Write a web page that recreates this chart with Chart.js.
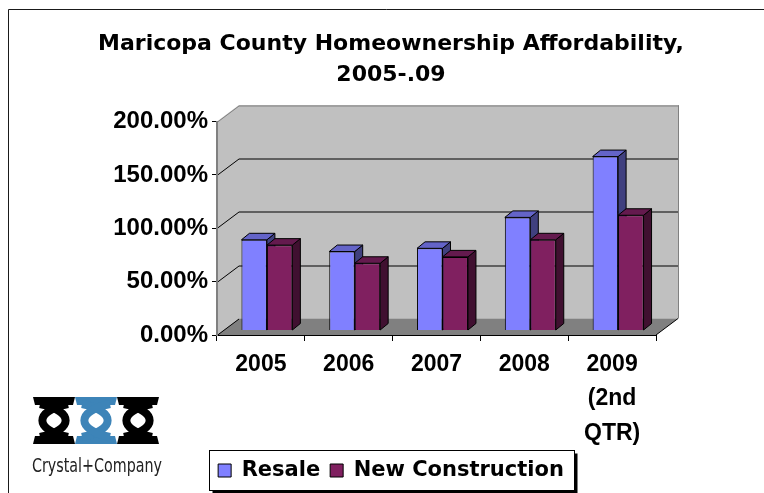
<!DOCTYPE html>
<html>
<head>
<meta charset="utf-8">
<script src="https://cdn.jsdelivr.net/npm/chart.js@4.4.1/dist/chart.umd.min.js"></script>
<style>
  html, body { margin: 0; padding: 0; background: #fff; }
  canvas { display: block; }
</style>
</head>
<body>
<canvas id="chart" width="764" height="493"></canvas>
<script>
// ---- data ----
const categories = ['2005', '2006', '2007', '2008', ['2009', '(2nd', 'QTR)']];
const resale = [85, 74, 77, 106, 163];
const newConstruction = [80, 63, 69, 85, 108];
const seriesNames = ['Resale', 'New Construction'];
const yTickValues = [0, 50, 100, 150, 200];
const titleLines = ['Maricopa County Homeownership Affordability,', '2005-.09'];
const logoText = 'Crystal+Company';

// ---- look ----
const WALL_DEPTH = { dx: 22, dy: -16.5 };   // oblique offset of the back wall
const BAR_SHIFT = { dx: 6, dy: -4.5 };      // bars stand a little behind the front edge
const BAR_DEPTH = { dx: 8, dy: -6.5 };      // visible thickness of each column
const BLOCK_CENTER = 391;                   // horizontal centre of title and legend
const TITLE_HALF_WIDTH = 360;               // room for the long first title line
const frontColors = ['#8080FF', '#802060'];
const faceColors = [
  { top: '#6464C8', side: '#40407F' },
  { top: '#641A4E', side: '#401030' }
];
const LABEL_FONT = '"Liberation Sans", Arial, sans-serif';
const TITLE_FONT = '"DejaVu Sans", Verdana, sans-serif';

function poly(ctx, pts, fill, stroke) {
  ctx.beginPath();
  ctx.moveTo(pts[0][0], pts[0][1]);
  for (let i = 1; i < pts.length; i++) ctx.lineTo(pts[i][0], pts[i][1]);
  ctx.closePath();
  if (fill) { ctx.fillStyle = fill; ctx.fill(); }
  if (stroke) { ctx.strokeStyle = stroke; ctx.lineWidth = 1; ctx.stroke(); }
}

function line(ctx, x1, y1, x2, y2, color, width) {
  ctx.beginPath();
  ctx.moveTo(x1, y1);
  ctx.lineTo(x2, y2);
  ctx.strokeStyle = color;
  ctx.lineWidth = width || 1;
  ctx.stroke();
}

// Title and legend are centred on the page block rather than on the padded width;
// the title box is widened so its first line is not squeezed
const centerBlocks = {
  id: 'centerBlocks',
  afterLayout(chart) {
    const t = chart.titleBlock;
    if (t) {
      t.left = BLOCK_CENTER - TITLE_HALF_WIDTH;
      t.right = BLOCK_CENTER + TITLE_HALF_WIDTH;
      t.width = TITLE_HALF_WIDTH * 2;
    }
    const lg = chart.legend;
    if (lg) {
      const shift = BLOCK_CENTER - (lg.left + lg.right) / 2;
      lg.left += shift;
      lg.right += shift;
    }
  }
};

// Background, outer frame, walls, floor, gridlines and the legend frame
const backdrop = {
  id: 'backdrop',
  beforeDraw(chart) {
    const { ctx, chartArea: a, scales: { y } } = chart;
    const dx = WALL_DEPTH.dx, dy = WALL_DEPTH.dy;
    const y0 = y.getPixelForValue(yTickValues[0]);
    const yTop = y.getPixelForValue(yTickValues[yTickValues.length - 1]);
    ctx.save();
    ctx.fillStyle = '#fff';
    ctx.fillRect(0, 0, chart.width, chart.height);

    // outer frame
    ctx.beginPath();
    ctx.moveTo(8.5, chart.height);
    ctx.lineTo(8.5, 9.5);
    ctx.lineTo(chart.width, 9.5);
    ctx.strokeStyle = '#1a1a1a';
    ctx.lineWidth = 1;
    ctx.stroke();

    // back wall
    poly(ctx, [[a.left + dx, yTop + dy], [a.right + dx, yTop + dy], [a.right + dx, y0 + dy], [a.left + dx, y0 + dy]], '#C0C0C0');
    // side wall
    poly(ctx, [[a.left, yTop], [a.left + dx, yTop + dy], [a.left + dx, y0 + dy], [a.left, y0]], '#C0C0C0');
    // floor
    poly(ctx, [[a.left, y0], [a.right, y0], [a.right + dx, y0 + dy], [a.left + dx, y0 + dy]], '#808080');

    // gridlines
    yTickValues.forEach((v, i) => {
      const py = Math.round(y.getPixelForValue(v)) + 0.5;
      const last = i === yTickValues.length - 1;
      line(ctx, a.left, py, a.left + dx, py + dy, last ? '#808080' : '#000');
      if (i > 0) line(ctx, a.left + dx, py + dy, a.right + dx, py + dy, last ? '#808080' : '#000');
    });
    line(ctx, a.right + dx + 0.5, yTop + dy, a.right + dx + 0.5, y0 + dy, '#808080');
    line(ctx, a.right, y0, a.right + dx, y0 + dy, '#000');

    // legend frame with drop shadow
    const lg = chart.legend;
    if (lg && lg.legendHitBoxes && lg.legendHitBoxes.length) {
      const hb = lg.legendHitBoxes;
      const first = hb[0], lastHb = hb[hb.length - 1];
      const left = Math.round(first.left - 9) + 0.5;
      const right = Math.round(lastHb.left + lastHb.width + 10) + 0.5;
      const cy = first.top + first.height / 2;
      const top = Math.round(cy - 21) + 0.5;
      const bottom = Math.round(cy + 19) + 0.5;
      ctx.fillStyle = '#000';
      ctx.fillRect(left + 3, top + 3, right - left, bottom - top);
      ctx.fillStyle = '#fff';
      ctx.fillRect(left, top, right - left, bottom - top);
      ctx.strokeStyle = '#000';
      ctx.lineWidth = 1;
      ctx.strokeRect(left, top, right - left, bottom - top);
    }
    ctx.restore();
  }
};

// Columns get a top and a side face; the whole set sits slightly behind the front edge
const columns3d = {
  id: 'columns3d',
  beforeDatasetsDraw(chart) {
    const ctx = chart.ctx;
    ctx.save();
    ctx.translate(BAR_SHIFT.dx, BAR_SHIFT.dy);
    const ex = BAR_DEPTH.dx, ey = BAR_DEPTH.dy;
    const n = chart.data.labels.length;
    for (let i = 0; i < n; i++) {
      chart.data.datasets.forEach((ds, d) => {
        const el = chart.getDatasetMeta(d).data[i];
        if (!el) return;
        const { x, y, base, width } = el.getProps(['x', 'y', 'base', 'width'], true);
        const l = x - width / 2, r = x + width / 2;
        poly(ctx, [[r, y], [r + ex, y + ey], [r + ex, base + ey], [r, base]], faceColors[d].side, '#000');
        poly(ctx, [[l, y], [r, y], [r + ex, y + ey], [l + ex, y + ey]], faceColors[d].top, '#000');
      });
    }
  },
  afterDatasetsDraw(chart) {
    chart.ctx.restore();
  }
};

// Company mark in the lower left corner
function drawLink(ctx, x, y, w, h, color) {
  ctx.save();
  ctx.fillStyle = color;
  ctx.strokeStyle = color;
  const bar = 8;
  ctx.beginPath();
  ctx.moveTo(x, y); ctx.lineTo(x + w, y); ctx.lineTo(x + w - 2, y + bar); ctx.lineTo(x + 2, y + bar);
  ctx.closePath(); ctx.fill();
  ctx.beginPath();
  ctx.moveTo(x + 2, y + h - bar); ctx.lineTo(x + w - 2, y + h - bar); ctx.lineTo(x + w, y + h); ctx.lineTo(x, y + h);
  ctx.closePath(); ctx.fill();
  ctx.lineWidth = 8;
  ctx.beginPath();
  ctx.moveTo(x + 7, y + bar - 1);
  ctx.bezierCurveTo(x + w * 0.98, y + h * 0.3, x + w * 0.98, y + h * 0.7, x + 7, y + h - bar + 1);
  ctx.stroke();
  ctx.beginPath();
  ctx.moveTo(x + w - 7, y + bar - 1);
  ctx.bezierCurveTo(x + w * 0.02, y + h * 0.3, x + w * 0.02, y + h * 0.7, x + w - 7, y + h - bar + 1);
  ctx.stroke();
  ctx.restore();
}

const logo = {
  id: 'logo',
  afterDraw(chart) {
    const ctx = chart.ctx;
    const x0 = 33, y0 = 397, w = 42, h = 47;
    ['#000000', '#3D84B8', '#000000'].forEach((c, k) => drawLink(ctx, x0 + k * w, y0, w, h, c));
    ctx.save();
    ctx.font = '19px "Liberation Sans Narrow", "DejaVu Sans Condensed", sans-serif';
    ctx.fillStyle = '#222';
    ctx.textBaseline = 'alphabetic';
    const tw = ctx.measureText(logoText).width;
    const target = 130;
    ctx.translate(x0 - 1, 472);
    ctx.scale(target / tw, 1);
    ctx.fillText(logoText, 0, 0);
    ctx.restore();
  }
};

new Chart(document.getElementById('chart'), {
  type: 'bar',
  data: {
    labels: categories,
    datasets: [
      { label: seriesNames[0], data: resale, backgroundColor: frontColors[0], borderColor: '#000', borderWidth: 1, clip: false },
      { label: seriesNames[1], data: newConstruction, backgroundColor: frontColors[1], borderColor: '#000', borderWidth: 1, clip: false }
    ]
  },
  options: {
    responsive: false,
    animation: false,
    devicePixelRatio: 1,
    events: [],
    layout: { padding: { left: 105, right: 108, top: 0, bottom: 2 } },
    datasets: { bar: { categoryPercentage: 0.58, barPercentage: 1 } },
    plugins: {
      title: {
        display: true,
        text: titleLines,
        color: '#000',
        font: { family: TITLE_FONT, size: 22, weight: 'bold', lineHeight: 1.4 },
        padding: { top: 29, bottom: 31 }
      },
      legend: {
        position: 'bottom',
        labels: {
          color: '#000',
          font: { family: TITLE_FONT, size: 21, weight: 'bold' },
          boxWidth: 13,
          boxHeight: 13,
          padding: 10
        }
      },
      tooltip: { enabled: false }
    },
    scales: {
      x: {
        grid: { drawOnChartArea: false, tickLength: 6, color: '#000', offset: true },
        border: { color: '#000', width: 1 },
        ticks: {
          color: '#000', padding: 6, maxRotation: 0, autoSkip: false,
          font: { family: LABEL_FONT, size: 23, weight: 'bold', lineHeight: 1.5 }
        },
        afterFit(scale) { scale.height = 115; }
      },
      y: {
        min: yTickValues[0],
        max: yTickValues[yTickValues.length - 1],
        afterBuildTicks(scale) { scale.ticks = yTickValues.map(v => ({ value: v })); },
        grid: { drawOnChartArea: false, tickLength: 5, color: '#000' },
        border: { color: '#808080', width: 2 },
        ticks: {
          color: '#000', padding: 4,
          font: { family: LABEL_FONT, size: 24, weight: 'bold' },
          callback: v => Number(v).toFixed(2) + '%'
        },
        afterFit(scale) { scale.width = 112; }
      }
    }
  },
  plugins: [centerBlocks, backdrop, columns3d, logo]
});
</script>
</body>
</html>
